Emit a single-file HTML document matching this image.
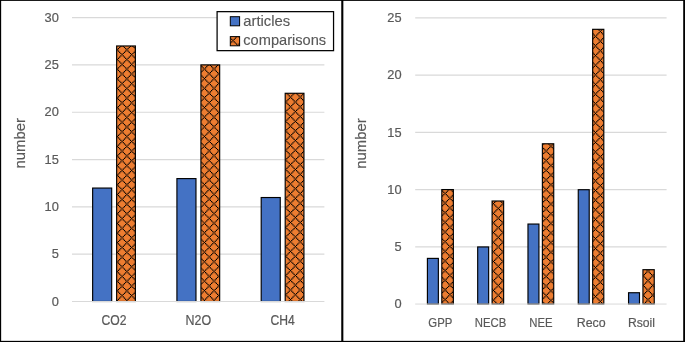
<!DOCTYPE html>
<html><head><meta charset="utf-8"><title>chart</title>
<style>html,body{margin:0;padding:0;background:#fff;}svg{display:block;will-change:transform;}text{font-family:"Liberation Sans",sans-serif;fill:#595959;stroke:#595959;stroke-width:0.2px;}</style>
</head><body>
<svg width="685" height="342" viewBox="0 0 685 342">
<rect x="0" y="0" width="685" height="342" fill="#fff"/>
<defs><path id="t" d="M0.000 0.000h1.205v1.205h-1.205zM7.230 0.000h1.205v1.205h-1.205zM1.205 1.205h1.205v1.205h-1.205zM6.025 1.205h1.205v1.205h-1.205zM2.410 2.410h1.205v1.205h-1.205zM4.820 2.410h1.205v1.205h-1.205zM3.615 3.615h1.205v1.205h-1.205zM2.410 4.820h1.205v1.205h-1.205zM4.820 4.820h1.205v1.205h-1.205zM1.205 6.025h1.205v1.205h-1.205zM6.025 6.025h1.205v1.205h-1.205zM0.000 7.230h1.205v1.205h-1.205zM7.230 7.230h1.205v1.205h-1.205zM8.435 8.435h1.205v1.205h-1.205z" fill="#000"/><clipPath id="c1"><rect x="116.64" y="45.97" width="18.75" height="255.53"/></clipPath><clipPath id="c2"><rect x="200.92" y="64.89" width="18.75" height="236.61"/></clipPath><clipPath id="c3"><rect x="285.20" y="93.28" width="18.75" height="208.22"/></clipPath><clipPath id="c4"><rect x="230.30" y="36.60" width="9.30" height="9.20"/></clipPath><clipPath id="c5"><rect x="441.81" y="189.56" width="11.55" height="114.49"/></clipPath><clipPath id="c6"><rect x="492.09" y="201.01" width="11.55" height="103.04"/></clipPath><clipPath id="c7"><rect x="542.38" y="143.78" width="11.35" height="160.27"/></clipPath><clipPath id="c8"><rect x="592.66" y="29.32" width="11.15" height="274.73"/></clipPath><clipPath id="c9"><rect x="642.94" y="269.69" width="11.30" height="34.36"/></clipPath></defs>
<line x1="72.00" y1="254.18" x2="324.40" y2="254.18" stroke="#d9d9d9" stroke-width="1.15"/>
<line x1="72.00" y1="206.87" x2="324.40" y2="206.87" stroke="#d9d9d9" stroke-width="1.15"/>
<line x1="72.00" y1="159.55" x2="324.40" y2="159.55" stroke="#d9d9d9" stroke-width="1.15"/>
<line x1="72.00" y1="112.23" x2="324.40" y2="112.23" stroke="#d9d9d9" stroke-width="1.15"/>
<line x1="72.00" y1="64.92" x2="324.40" y2="64.92" stroke="#d9d9d9" stroke-width="1.15"/>
<line x1="72.00" y1="17.60" x2="324.40" y2="17.60" stroke="#d9d9d9" stroke-width="1.15"/>
<rect x="92.64" y="188.06" width="19.05" height="113.43" fill="#4472c4" stroke="#000" stroke-width="1.15"/>
<rect x="116.64" y="45.97" width="18.75" height="255.53" fill="#ed7d31"/>
<g clip-path="url(#c1)"><use href="#t" x="113.04" y="45.68"/><use href="#t" x="122.68" y="45.68"/><use href="#t" x="132.32" y="45.68"/><use href="#t" x="113.04" y="55.32"/><use href="#t" x="122.68" y="55.32"/><use href="#t" x="132.32" y="55.32"/><use href="#t" x="113.04" y="64.96"/><use href="#t" x="122.68" y="64.96"/><use href="#t" x="132.32" y="64.96"/><use href="#t" x="113.04" y="74.60"/><use href="#t" x="122.68" y="74.60"/><use href="#t" x="132.32" y="74.60"/><use href="#t" x="113.04" y="84.24"/><use href="#t" x="122.68" y="84.24"/><use href="#t" x="132.32" y="84.24"/><use href="#t" x="113.04" y="93.88"/><use href="#t" x="122.68" y="93.88"/><use href="#t" x="132.32" y="93.88"/><use href="#t" x="113.04" y="103.52"/><use href="#t" x="122.68" y="103.52"/><use href="#t" x="132.32" y="103.52"/><use href="#t" x="113.04" y="113.16"/><use href="#t" x="122.68" y="113.16"/><use href="#t" x="132.32" y="113.16"/><use href="#t" x="113.04" y="122.80"/><use href="#t" x="122.68" y="122.80"/><use href="#t" x="132.32" y="122.80"/><use href="#t" x="113.04" y="132.44"/><use href="#t" x="122.68" y="132.44"/><use href="#t" x="132.32" y="132.44"/><use href="#t" x="113.04" y="142.08"/><use href="#t" x="122.68" y="142.08"/><use href="#t" x="132.32" y="142.08"/><use href="#t" x="113.04" y="151.72"/><use href="#t" x="122.68" y="151.72"/><use href="#t" x="132.32" y="151.72"/><use href="#t" x="113.04" y="161.36"/><use href="#t" x="122.68" y="161.36"/><use href="#t" x="132.32" y="161.36"/><use href="#t" x="113.04" y="171.00"/><use href="#t" x="122.68" y="171.00"/><use href="#t" x="132.32" y="171.00"/><use href="#t" x="113.04" y="180.64"/><use href="#t" x="122.68" y="180.64"/><use href="#t" x="132.32" y="180.64"/><use href="#t" x="113.04" y="190.28"/><use href="#t" x="122.68" y="190.28"/><use href="#t" x="132.32" y="190.28"/><use href="#t" x="113.04" y="199.92"/><use href="#t" x="122.68" y="199.92"/><use href="#t" x="132.32" y="199.92"/><use href="#t" x="113.04" y="209.56"/><use href="#t" x="122.68" y="209.56"/><use href="#t" x="132.32" y="209.56"/><use href="#t" x="113.04" y="219.20"/><use href="#t" x="122.68" y="219.20"/><use href="#t" x="132.32" y="219.20"/><use href="#t" x="113.04" y="228.84"/><use href="#t" x="122.68" y="228.84"/><use href="#t" x="132.32" y="228.84"/><use href="#t" x="113.04" y="238.48"/><use href="#t" x="122.68" y="238.48"/><use href="#t" x="132.32" y="238.48"/><use href="#t" x="113.04" y="248.12"/><use href="#t" x="122.68" y="248.12"/><use href="#t" x="132.32" y="248.12"/><use href="#t" x="113.04" y="257.76"/><use href="#t" x="122.68" y="257.76"/><use href="#t" x="132.32" y="257.76"/><use href="#t" x="113.04" y="267.40"/><use href="#t" x="122.68" y="267.40"/><use href="#t" x="132.32" y="267.40"/><use href="#t" x="113.04" y="277.04"/><use href="#t" x="122.68" y="277.04"/><use href="#t" x="132.32" y="277.04"/><use href="#t" x="113.04" y="286.68"/><use href="#t" x="122.68" y="286.68"/><use href="#t" x="132.32" y="286.68"/><use href="#t" x="113.04" y="296.32"/><use href="#t" x="122.68" y="296.32"/><use href="#t" x="132.32" y="296.32"/></g>
<rect x="116.64" y="45.97" width="18.75" height="255.53" fill="none" stroke="#000" stroke-width="1.15"/>
<text x="114.07" y="325.00" font-size="13.80" text-anchor="middle" textLength="25.00" lengthAdjust="spacingAndGlyphs">CO2</text>
<rect x="176.92" y="178.60" width="19.05" height="122.90" fill="#4472c4" stroke="#000" stroke-width="1.15"/>
<rect x="200.92" y="64.89" width="18.75" height="236.61" fill="#ed7d31"/>
<g clip-path="url(#c2)"><use href="#t" x="195.34" y="59.94"/><use href="#t" x="204.98" y="59.94"/><use href="#t" x="214.62" y="59.94"/><use href="#t" x="195.34" y="69.58"/><use href="#t" x="204.98" y="69.58"/><use href="#t" x="214.62" y="69.58"/><use href="#t" x="195.34" y="79.22"/><use href="#t" x="204.98" y="79.22"/><use href="#t" x="214.62" y="79.22"/><use href="#t" x="195.34" y="88.86"/><use href="#t" x="204.98" y="88.86"/><use href="#t" x="214.62" y="88.86"/><use href="#t" x="195.34" y="98.50"/><use href="#t" x="204.98" y="98.50"/><use href="#t" x="214.62" y="98.50"/><use href="#t" x="195.34" y="108.14"/><use href="#t" x="204.98" y="108.14"/><use href="#t" x="214.62" y="108.14"/><use href="#t" x="195.34" y="117.78"/><use href="#t" x="204.98" y="117.78"/><use href="#t" x="214.62" y="117.78"/><use href="#t" x="195.34" y="127.42"/><use href="#t" x="204.98" y="127.42"/><use href="#t" x="214.62" y="127.42"/><use href="#t" x="195.34" y="137.06"/><use href="#t" x="204.98" y="137.06"/><use href="#t" x="214.62" y="137.06"/><use href="#t" x="195.34" y="146.70"/><use href="#t" x="204.98" y="146.70"/><use href="#t" x="214.62" y="146.70"/><use href="#t" x="195.34" y="156.34"/><use href="#t" x="204.98" y="156.34"/><use href="#t" x="214.62" y="156.34"/><use href="#t" x="195.34" y="165.98"/><use href="#t" x="204.98" y="165.98"/><use href="#t" x="214.62" y="165.98"/><use href="#t" x="195.34" y="175.62"/><use href="#t" x="204.98" y="175.62"/><use href="#t" x="214.62" y="175.62"/><use href="#t" x="195.34" y="185.26"/><use href="#t" x="204.98" y="185.26"/><use href="#t" x="214.62" y="185.26"/><use href="#t" x="195.34" y="194.90"/><use href="#t" x="204.98" y="194.90"/><use href="#t" x="214.62" y="194.90"/><use href="#t" x="195.34" y="204.54"/><use href="#t" x="204.98" y="204.54"/><use href="#t" x="214.62" y="204.54"/><use href="#t" x="195.34" y="214.18"/><use href="#t" x="204.98" y="214.18"/><use href="#t" x="214.62" y="214.18"/><use href="#t" x="195.34" y="223.82"/><use href="#t" x="204.98" y="223.82"/><use href="#t" x="214.62" y="223.82"/><use href="#t" x="195.34" y="233.46"/><use href="#t" x="204.98" y="233.46"/><use href="#t" x="214.62" y="233.46"/><use href="#t" x="195.34" y="243.10"/><use href="#t" x="204.98" y="243.10"/><use href="#t" x="214.62" y="243.10"/><use href="#t" x="195.34" y="252.74"/><use href="#t" x="204.98" y="252.74"/><use href="#t" x="214.62" y="252.74"/><use href="#t" x="195.34" y="262.38"/><use href="#t" x="204.98" y="262.38"/><use href="#t" x="214.62" y="262.38"/><use href="#t" x="195.34" y="272.02"/><use href="#t" x="204.98" y="272.02"/><use href="#t" x="214.62" y="272.02"/><use href="#t" x="195.34" y="281.66"/><use href="#t" x="204.98" y="281.66"/><use href="#t" x="214.62" y="281.66"/><use href="#t" x="195.34" y="291.30"/><use href="#t" x="204.98" y="291.30"/><use href="#t" x="214.62" y="291.30"/><use href="#t" x="195.34" y="300.94"/><use href="#t" x="204.98" y="300.94"/><use href="#t" x="214.62" y="300.94"/></g>
<rect x="200.92" y="64.89" width="18.75" height="236.61" fill="none" stroke="#000" stroke-width="1.15"/>
<text x="198.35" y="325.00" font-size="13.80" text-anchor="middle" textLength="25.60" lengthAdjust="spacingAndGlyphs">N2O</text>
<rect x="261.20" y="197.53" width="19.05" height="103.97" fill="#4472c4" stroke="#000" stroke-width="1.15"/>
<rect x="285.20" y="93.28" width="18.75" height="208.22" fill="#ed7d31"/>
<g clip-path="url(#c3)"><use href="#t" x="281.49" y="88.14"/><use href="#t" x="291.13" y="88.14"/><use href="#t" x="300.77" y="88.14"/><use href="#t" x="281.49" y="97.78"/><use href="#t" x="291.13" y="97.78"/><use href="#t" x="300.77" y="97.78"/><use href="#t" x="281.49" y="107.42"/><use href="#t" x="291.13" y="107.42"/><use href="#t" x="300.77" y="107.42"/><use href="#t" x="281.49" y="117.06"/><use href="#t" x="291.13" y="117.06"/><use href="#t" x="300.77" y="117.06"/><use href="#t" x="281.49" y="126.70"/><use href="#t" x="291.13" y="126.70"/><use href="#t" x="300.77" y="126.70"/><use href="#t" x="281.49" y="136.34"/><use href="#t" x="291.13" y="136.34"/><use href="#t" x="300.77" y="136.34"/><use href="#t" x="281.49" y="145.98"/><use href="#t" x="291.13" y="145.98"/><use href="#t" x="300.77" y="145.98"/><use href="#t" x="281.49" y="155.62"/><use href="#t" x="291.13" y="155.62"/><use href="#t" x="300.77" y="155.62"/><use href="#t" x="281.49" y="165.26"/><use href="#t" x="291.13" y="165.26"/><use href="#t" x="300.77" y="165.26"/><use href="#t" x="281.49" y="174.90"/><use href="#t" x="291.13" y="174.90"/><use href="#t" x="300.77" y="174.90"/><use href="#t" x="281.49" y="184.54"/><use href="#t" x="291.13" y="184.54"/><use href="#t" x="300.77" y="184.54"/><use href="#t" x="281.49" y="194.18"/><use href="#t" x="291.13" y="194.18"/><use href="#t" x="300.77" y="194.18"/><use href="#t" x="281.49" y="203.82"/><use href="#t" x="291.13" y="203.82"/><use href="#t" x="300.77" y="203.82"/><use href="#t" x="281.49" y="213.46"/><use href="#t" x="291.13" y="213.46"/><use href="#t" x="300.77" y="213.46"/><use href="#t" x="281.49" y="223.10"/><use href="#t" x="291.13" y="223.10"/><use href="#t" x="300.77" y="223.10"/><use href="#t" x="281.49" y="232.74"/><use href="#t" x="291.13" y="232.74"/><use href="#t" x="300.77" y="232.74"/><use href="#t" x="281.49" y="242.38"/><use href="#t" x="291.13" y="242.38"/><use href="#t" x="300.77" y="242.38"/><use href="#t" x="281.49" y="252.02"/><use href="#t" x="291.13" y="252.02"/><use href="#t" x="300.77" y="252.02"/><use href="#t" x="281.49" y="261.66"/><use href="#t" x="291.13" y="261.66"/><use href="#t" x="300.77" y="261.66"/><use href="#t" x="281.49" y="271.30"/><use href="#t" x="291.13" y="271.30"/><use href="#t" x="300.77" y="271.30"/><use href="#t" x="281.49" y="280.94"/><use href="#t" x="291.13" y="280.94"/><use href="#t" x="300.77" y="280.94"/><use href="#t" x="281.49" y="290.58"/><use href="#t" x="291.13" y="290.58"/><use href="#t" x="300.77" y="290.58"/><use href="#t" x="281.49" y="300.22"/><use href="#t" x="291.13" y="300.22"/><use href="#t" x="300.77" y="300.22"/></g>
<rect x="285.20" y="93.28" width="18.75" height="208.22" fill="none" stroke="#000" stroke-width="1.15"/>
<text x="282.63" y="325.00" font-size="13.80" text-anchor="middle" textLength="24.30" lengthAdjust="spacingAndGlyphs">CH4</text>
<line x1="72.00" y1="301.50" x2="324.40" y2="301.50" stroke="#d9d9d9" stroke-width="1"/>
<text x="58.85" y="305.70" font-size="13.50" text-anchor="end" textLength="7.15" lengthAdjust="spacingAndGlyphs">0</text>
<text x="58.85" y="258.38" font-size="13.50" text-anchor="end" textLength="7.15" lengthAdjust="spacingAndGlyphs">5</text>
<text x="58.85" y="211.07" font-size="13.50" text-anchor="end" textLength="14.30" lengthAdjust="spacingAndGlyphs">10</text>
<text x="58.85" y="163.75" font-size="13.50" text-anchor="end" textLength="14.30" lengthAdjust="spacingAndGlyphs">15</text>
<text x="58.85" y="116.43" font-size="13.50" text-anchor="end" textLength="14.30" lengthAdjust="spacingAndGlyphs">20</text>
<text x="58.85" y="69.12" font-size="13.50" text-anchor="end" textLength="14.30" lengthAdjust="spacingAndGlyphs">25</text>
<text x="58.85" y="21.80" font-size="13.50" text-anchor="end" textLength="14.30" lengthAdjust="spacingAndGlyphs">30</text>
<text x="24.60" y="143.30" font-size="14.50" text-anchor="middle" textLength="50.30" lengthAdjust="spacingAndGlyphs" transform="rotate(-90 24.60 143.30)">number</text>
<rect x="217.1" y="11.65" width="116.45" height="39.0" fill="#fff" stroke="#000" stroke-width="1.25"/>
<rect x="230.3" y="16.7" width="9.3" height="9.1" fill="#4472c4" stroke="#000" stroke-width="1"/>
<rect x="230.30" y="36.60" width="9.30" height="9.20" fill="#ed7d31"/>
<g clip-path="url(#c4)"><use href="#t" x="228.78" y="36.38"/><use href="#t" x="238.42" y="36.38"/></g>
<rect x="230.3" y="36.6" width="9.3" height="9.2" fill="none" stroke="#000" stroke-width="1"/>
<text x="243.30" y="25.90" font-size="14.50" text-anchor="start" textLength="46.90" lengthAdjust="spacingAndGlyphs" fill="#484848" style="stroke:#484848;stroke-width:0.12px">articles</text>
<text x="243.30" y="45.40" font-size="14.50" text-anchor="start" textLength="82.80" lengthAdjust="spacingAndGlyphs" fill="#484848" style="stroke:#484848;stroke-width:0.12px">comparisons</text>
<line x1="415.20" y1="246.82" x2="666.60" y2="246.82" stroke="#d9d9d9" stroke-width="1.15"/>
<line x1="415.20" y1="189.59" x2="666.60" y2="189.59" stroke="#d9d9d9" stroke-width="1.15"/>
<line x1="415.20" y1="132.36" x2="666.60" y2="132.36" stroke="#d9d9d9" stroke-width="1.15"/>
<line x1="415.20" y1="75.13" x2="666.60" y2="75.13" stroke="#d9d9d9" stroke-width="1.15"/>
<line x1="415.20" y1="17.90" x2="666.60" y2="17.90" stroke="#d9d9d9" stroke-width="1.15"/>
<rect x="427.41" y="258.39" width="10.95" height="45.66" fill="#4472c4" stroke="#000" stroke-width="1.15"/>
<rect x="441.81" y="189.56" width="11.55" height="114.49" fill="#ed7d31"/>
<g clip-path="url(#c5)"><use href="#t" x="440.87" y="189.27"/><use href="#t" x="450.51" y="189.27"/><use href="#t" x="440.87" y="198.91"/><use href="#t" x="450.51" y="198.91"/><use href="#t" x="440.87" y="208.55"/><use href="#t" x="450.51" y="208.55"/><use href="#t" x="440.87" y="218.19"/><use href="#t" x="450.51" y="218.19"/><use href="#t" x="440.87" y="227.83"/><use href="#t" x="450.51" y="227.83"/><use href="#t" x="440.87" y="237.47"/><use href="#t" x="450.51" y="237.47"/><use href="#t" x="440.87" y="247.11"/><use href="#t" x="450.51" y="247.11"/><use href="#t" x="440.87" y="256.75"/><use href="#t" x="450.51" y="256.75"/><use href="#t" x="440.87" y="266.39"/><use href="#t" x="450.51" y="266.39"/><use href="#t" x="440.87" y="276.03"/><use href="#t" x="450.51" y="276.03"/><use href="#t" x="440.87" y="285.67"/><use href="#t" x="450.51" y="285.67"/><use href="#t" x="440.87" y="295.31"/><use href="#t" x="450.51" y="295.31"/></g>
<rect x="441.81" y="189.56" width="11.55" height="114.49" fill="none" stroke="#000" stroke-width="1.15"/>
<text x="440.34" y="326.90" font-size="13.70" text-anchor="middle" textLength="24.00" lengthAdjust="spacingAndGlyphs">GPP</text>
<rect x="477.69" y="246.94" width="10.95" height="57.11" fill="#4472c4" stroke="#000" stroke-width="1.15"/>
<rect x="492.09" y="201.01" width="11.55" height="103.04" fill="#ed7d31"/>
<g clip-path="url(#c6)"><use href="#t" x="489.20" y="199.42"/><use href="#t" x="498.84" y="199.42"/><use href="#t" x="489.20" y="209.06"/><use href="#t" x="498.84" y="209.06"/><use href="#t" x="489.20" y="218.70"/><use href="#t" x="498.84" y="218.70"/><use href="#t" x="489.20" y="228.34"/><use href="#t" x="498.84" y="228.34"/><use href="#t" x="489.20" y="237.98"/><use href="#t" x="498.84" y="237.98"/><use href="#t" x="489.20" y="247.62"/><use href="#t" x="498.84" y="247.62"/><use href="#t" x="489.20" y="257.26"/><use href="#t" x="498.84" y="257.26"/><use href="#t" x="489.20" y="266.90"/><use href="#t" x="498.84" y="266.90"/><use href="#t" x="489.20" y="276.54"/><use href="#t" x="498.84" y="276.54"/><use href="#t" x="489.20" y="286.18"/><use href="#t" x="498.84" y="286.18"/><use href="#t" x="489.20" y="295.82"/><use href="#t" x="498.84" y="295.82"/></g>
<rect x="492.09" y="201.01" width="11.55" height="103.04" fill="none" stroke="#000" stroke-width="1.15"/>
<text x="490.62" y="326.90" font-size="13.70" text-anchor="middle" textLength="31.50" lengthAdjust="spacingAndGlyphs">NECB</text>
<rect x="527.98" y="224.05" width="10.95" height="80.00" fill="#4472c4" stroke="#000" stroke-width="1.15"/>
<rect x="542.38" y="143.78" width="11.35" height="160.27" fill="#ed7d31"/>
<g clip-path="url(#c7)"><use href="#t" x="537.08" y="141.99"/><use href="#t" x="546.72" y="141.99"/><use href="#t" x="537.08" y="151.63"/><use href="#t" x="546.72" y="151.63"/><use href="#t" x="537.08" y="161.27"/><use href="#t" x="546.72" y="161.27"/><use href="#t" x="537.08" y="170.91"/><use href="#t" x="546.72" y="170.91"/><use href="#t" x="537.08" y="180.55"/><use href="#t" x="546.72" y="180.55"/><use href="#t" x="537.08" y="190.19"/><use href="#t" x="546.72" y="190.19"/><use href="#t" x="537.08" y="199.83"/><use href="#t" x="546.72" y="199.83"/><use href="#t" x="537.08" y="209.47"/><use href="#t" x="546.72" y="209.47"/><use href="#t" x="537.08" y="219.11"/><use href="#t" x="546.72" y="219.11"/><use href="#t" x="537.08" y="228.75"/><use href="#t" x="546.72" y="228.75"/><use href="#t" x="537.08" y="238.39"/><use href="#t" x="546.72" y="238.39"/><use href="#t" x="537.08" y="248.03"/><use href="#t" x="546.72" y="248.03"/><use href="#t" x="537.08" y="257.67"/><use href="#t" x="546.72" y="257.67"/><use href="#t" x="537.08" y="267.31"/><use href="#t" x="546.72" y="267.31"/><use href="#t" x="537.08" y="276.95"/><use href="#t" x="546.72" y="276.95"/><use href="#t" x="537.08" y="286.59"/><use href="#t" x="546.72" y="286.59"/><use href="#t" x="537.08" y="296.23"/><use href="#t" x="546.72" y="296.23"/></g>
<rect x="542.38" y="143.78" width="11.35" height="160.27" fill="none" stroke="#000" stroke-width="1.15"/>
<text x="540.90" y="326.90" font-size="13.70" text-anchor="middle" textLength="23.30" lengthAdjust="spacingAndGlyphs">NEE</text>
<rect x="578.26" y="189.71" width="10.95" height="114.34" fill="#4472c4" stroke="#000" stroke-width="1.15"/>
<rect x="592.66" y="29.32" width="11.15" height="274.73" fill="#ed7d31"/>
<g clip-path="url(#c8)"><use href="#t" x="586.46" y="27.23"/><use href="#t" x="596.10" y="27.23"/><use href="#t" x="586.46" y="36.87"/><use href="#t" x="596.10" y="36.87"/><use href="#t" x="586.46" y="46.51"/><use href="#t" x="596.10" y="46.51"/><use href="#t" x="586.46" y="56.15"/><use href="#t" x="596.10" y="56.15"/><use href="#t" x="586.46" y="65.79"/><use href="#t" x="596.10" y="65.79"/><use href="#t" x="586.46" y="75.43"/><use href="#t" x="596.10" y="75.43"/><use href="#t" x="586.46" y="85.07"/><use href="#t" x="596.10" y="85.07"/><use href="#t" x="586.46" y="94.71"/><use href="#t" x="596.10" y="94.71"/><use href="#t" x="586.46" y="104.35"/><use href="#t" x="596.10" y="104.35"/><use href="#t" x="586.46" y="113.99"/><use href="#t" x="596.10" y="113.99"/><use href="#t" x="586.46" y="123.63"/><use href="#t" x="596.10" y="123.63"/><use href="#t" x="586.46" y="133.27"/><use href="#t" x="596.10" y="133.27"/><use href="#t" x="586.46" y="142.91"/><use href="#t" x="596.10" y="142.91"/><use href="#t" x="586.46" y="152.55"/><use href="#t" x="596.10" y="152.55"/><use href="#t" x="586.46" y="162.19"/><use href="#t" x="596.10" y="162.19"/><use href="#t" x="586.46" y="171.83"/><use href="#t" x="596.10" y="171.83"/><use href="#t" x="586.46" y="181.47"/><use href="#t" x="596.10" y="181.47"/><use href="#t" x="586.46" y="191.11"/><use href="#t" x="596.10" y="191.11"/><use href="#t" x="586.46" y="200.75"/><use href="#t" x="596.10" y="200.75"/><use href="#t" x="586.46" y="210.39"/><use href="#t" x="596.10" y="210.39"/><use href="#t" x="586.46" y="220.03"/><use href="#t" x="596.10" y="220.03"/><use href="#t" x="586.46" y="229.67"/><use href="#t" x="596.10" y="229.67"/><use href="#t" x="586.46" y="239.31"/><use href="#t" x="596.10" y="239.31"/><use href="#t" x="586.46" y="248.95"/><use href="#t" x="596.10" y="248.95"/><use href="#t" x="586.46" y="258.59"/><use href="#t" x="596.10" y="258.59"/><use href="#t" x="586.46" y="268.23"/><use href="#t" x="596.10" y="268.23"/><use href="#t" x="586.46" y="277.87"/><use href="#t" x="596.10" y="277.87"/><use href="#t" x="586.46" y="287.51"/><use href="#t" x="596.10" y="287.51"/><use href="#t" x="586.46" y="297.15"/><use href="#t" x="596.10" y="297.15"/></g>
<rect x="592.66" y="29.32" width="11.15" height="274.73" fill="none" stroke="#000" stroke-width="1.15"/>
<text x="591.18" y="326.90" font-size="13.70" text-anchor="middle" textLength="29.00" lengthAdjust="spacingAndGlyphs">Reco</text>
<rect x="628.54" y="292.73" width="10.95" height="11.32" fill="#4472c4" stroke="#000" stroke-width="1.15"/>
<rect x="642.94" y="269.69" width="11.30" height="34.36" fill="#ed7d31"/>
<g clip-path="url(#c9)"><use href="#t" x="638.94" y="261.95"/><use href="#t" x="648.58" y="261.95"/><use href="#t" x="638.94" y="271.59"/><use href="#t" x="648.58" y="271.59"/><use href="#t" x="638.94" y="281.23"/><use href="#t" x="648.58" y="281.23"/><use href="#t" x="638.94" y="290.87"/><use href="#t" x="648.58" y="290.87"/><use href="#t" x="638.94" y="300.51"/><use href="#t" x="648.58" y="300.51"/></g>
<rect x="642.94" y="269.69" width="11.30" height="34.36" fill="none" stroke="#000" stroke-width="1.15"/>
<text x="641.46" y="326.90" font-size="13.70" text-anchor="middle" textLength="27.10" lengthAdjust="spacingAndGlyphs">Rsoil</text>
<line x1="415.20" y1="304.05" x2="666.60" y2="304.05" stroke="#d9d9d9" stroke-width="1"/>
<text x="401.65" y="308.25" font-size="13.50" text-anchor="end" textLength="7.15" lengthAdjust="spacingAndGlyphs">0</text>
<text x="401.65" y="251.02" font-size="13.50" text-anchor="end" textLength="7.15" lengthAdjust="spacingAndGlyphs">5</text>
<text x="401.65" y="193.79" font-size="13.50" text-anchor="end" textLength="14.30" lengthAdjust="spacingAndGlyphs">10</text>
<text x="401.65" y="136.56" font-size="13.50" text-anchor="end" textLength="14.30" lengthAdjust="spacingAndGlyphs">15</text>
<text x="401.65" y="79.33" font-size="13.50" text-anchor="end" textLength="14.30" lengthAdjust="spacingAndGlyphs">20</text>
<text x="401.65" y="22.10" font-size="13.50" text-anchor="end" textLength="14.30" lengthAdjust="spacingAndGlyphs">25</text>
<text x="366.10" y="143.50" font-size="14.50" text-anchor="middle" textLength="50.30" lengthAdjust="spacingAndGlyphs" transform="rotate(-90 366.10 143.50)">number</text>
<rect x="0" y="0" width="685" height="0.9" fill="#000"/>
<rect x="0" y="0" width="1.15" height="342" fill="#000"/>
<rect x="683.2" y="0" width="1.8" height="342" fill="#000"/>
<rect x="0" y="340.85" width="685" height="1.15" fill="#000"/>
<rect x="341.25" y="0" width="2.1" height="342" fill="#000"/>
</svg></body></html>
